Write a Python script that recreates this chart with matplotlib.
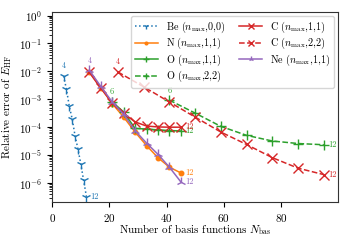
import matplotlib
matplotlib.use("Agg")
import matplotlib.pyplot as plt

plt.rcParams['font.family'] = 'serif'
plt.rcParams['font.serif'] = ['cmr10', 'DejaVu Serif']
plt.rcParams['mathtext.fontset'] = 'cm'
plt.rcParams['axes.formatter.use_mathtext'] = True
plt.rcParams['font.size'] = 8

# (n_max,0,0): N = n ; (n_max,1,1): N = 4n-3 ; (n_max,2,2): N = 9n-13
be_x = [4, 5, 6, 7, 8, 9, 10, 11, 12]
be_y = [6.8e-3, 2.3e-3, 5.6e-4, 2.0e-4, 5.0e-5, 1.7e-5, 5.0e-6, 1.25e-6, 3.2e-7]

n_x = [13, 17, 21, 25, 29, 33, 37, 41, 45]
n_y = [9.5e-3, 2.6e-3, 7.0e-4, 2.3e-4, 6.7e-5, 2.2e-5, 8.1e-6, 3.7e-6, 2.3e-6]

o11_x = [21, 25, 29, 33, 37, 41, 45]
o11_y = [8.1e-4, 3.5e-4, 9.0e-5, 8.6e-5, 8.0e-5, 7.6e-5, 7.3e-5]

o22_x = [41, 50, 59, 68, 77, 86, 95]
o22_y = [9.3e-4, 3.2e-4, 1.07e-4, 5.1e-5, 3.2e-5, 2.6e-5, 2.35e-5]

c11_x = [13, 17, 21, 25, 29, 33, 37, 41, 45]
c11_y = [9.2e-3, 2.5e-3, 7.4e-4, 3.1e-4, 1.55e-4, 1.1e-4, 1.02e-4, 1.0e-4, 1.0e-4]

c22_x = [23, 32, 41, 50, 59, 68, 77, 86, 95]
c22_y = [9.5e-3, 2.8e-3, 8.0e-4, 2.3e-4, 6.7e-5, 2.4e-5, 8.1e-6, 3.4e-6, 2.0e-6]

ne_x = [13, 17, 21, 25, 29, 33, 37, 41, 45]
ne_y = [1.1e-2, 2.9e-3, 8.0e-4, 2.9e-4, 7.5e-5, 2.7e-5, 1.07e-5, 3.7e-6, 1.1e-6]

series = [
    (be_x, be_y, 'C0', ':', '1', r'Be ($n_\mathrm{max}$,0,0)', '4'),
    (n_x, n_y, 'C1', '-', '.', r'N ($n_\mathrm{max}$,1,1)', None),
    (o11_x, o11_y, 'C2', '-', '+', r'O ($n_\mathrm{max}$,1,1)', '6'),
    (o22_x, o22_y, 'C2', '--', '+', r'O ($n_\mathrm{max}$,2,2)', '6'),
    (c11_x, c11_y, 'C3', '-', 'x', r'C ($n_\mathrm{max}$,1,1)', None),
    (c22_x, c22_y, 'C3', '--', 'x', r'C ($n_\mathrm{max}$,2,2)', '4'),
    (ne_x, ne_y, 'C4', '-', '2', r'Ne ($n_\mathrm{max}$,1,1)', '4'),
]

fig = plt.figure(figsize=(3.5, 2.43), dpi=100)
ax = fig.add_axes([0.149, 0.169, 0.817, 0.782])

for xs, ys, col, ls, mk, lab, first in series:
    ax.plot(xs, ys, color=col, linestyle=ls, marker=mk, markersize=6.5,
            linewidth=1.1, label=lab)
    if first is not None:
        ax.annotate(first, (xs[0], ys[0]), xytext=(0, 4), textcoords='offset points',
                    ha='center', va='bottom', color=col, fontsize=6)
    ax.annotate('12', (xs[-1], ys[-1]), xytext=(3, 0), textcoords='offset points',
                ha='left', va='center', color=col, fontsize=6)

ax.set_yscale('log')
ax.set_xlim(0, 100)
ax.set_ylim(2.1e-7, 1.35)
ax.set_xticks([0, 20, 40, 60, 80])
ax.set_xlabel(r'Number of basis functions $N_\mathrm{bas}$', labelpad=-1)
ax.set_ylabel(r'Relative error of $E_\mathrm{HF}$')
for s in ax.spines.values():
    s.set_color('#333333')
ax.legend(loc='upper right', ncol=2, fontsize=7.3, handlelength=2.3,
          columnspacing=1.3, labelspacing=0.12, borderpad=0.35,
          handletextpad=0.8, markerscale=0.6, borderaxespad=0.4)

fig.savefig('out.png', dpi=100)
